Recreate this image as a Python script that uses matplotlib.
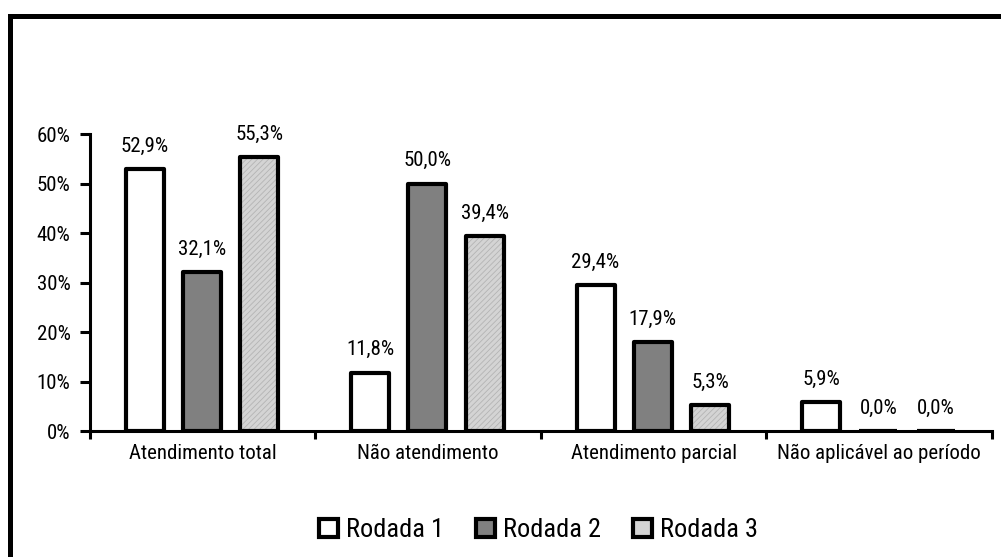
import matplotlib.pyplot as plt
from matplotlib.patches import Rectangle, Patch
import numpy as np

plt.rcParams['font.family'] = ['Liberation Sans Narrow', 'Arial Narrow', 'Roboto Condensed',
                               'Archivo Narrow', 'Liberation Sans', 'DejaVu Sans']
plt.rcParams['hatch.linewidth'] = 0.6

categorias = ['Atendimento total', 'Não atendimento', 'Atendimento parcial', 'Não aplicável ao período']
rodadas = ['Rodada 1', 'Rodada 2', 'Rodada 3']
rodada1 = [52.9, 11.8, 29.4, 5.9]
rodada2 = [32.1, 50.0, 17.9, 0.0]
rodada3 = [55.3, 39.4, 5.3, 0.0]
cores = ['white', '#808080', '#d4d4d4']
hachuras = [None, None, '//////']


def fmt(v):
    return f'{v:.1f}%'.replace('.', ',')


fig = plt.figure(figsize=(10.01, 5.57), dpi=100)
ax = fig.add_axes([0.0899, 0.2262, 0.9011, 0.5332])

x = np.arange(len(categorias))
largura = 0.169
desloc = [-0.258, -0.004, 0.25]

for serie, cor, hach, d in zip([rodada1, rodada2, rodada3], cores, hachuras, desloc):
    # preenchimento (com hachura fina na rodada 3) e depois o contorno preto
    ax.bar(x + d, serie, largura, color=cor, hatch=hach, edgecolor='#b4b4b4',
           linewidth=0, zorder=2)
    ax.bar(x + d, serie, largura, fill=False, edgecolor='black', linewidth=3,
           joinstyle='round', zorder=3)
    for xi, v in zip(x + d, serie):
        ax.text(xi, v + 3.5, fmt(v), ha='center', va='baseline', fontsize=15)

ax.set_xlim(-0.5, 3.5)
ax.set_ylim(0, 60)
ax.set_yticks(np.arange(0, 61, 10))
ax.set_yticklabels([f'{t}%' for t in range(0, 61, 10)], fontsize=15)
ax.set_xticks(x)
ax.set_xticklabels(categorias, fontsize=15)
ax.tick_params(axis='x', length=0, pad=9)
ax.tick_params(axis='y', length=7, width=2.2, pad=7)

# marcas entre categorias no eixo x
ax.set_xticks(np.arange(-0.5, 4.0, 1.0), minor=True)
ax.tick_params(axis='x', which='minor', length=6, width=2.2)

for s in ['top', 'right']:
    ax.spines[s].set_visible(False)
ax.spines['left'].set_linewidth(2.2)
ax.spines['bottom'].set_linewidth(2.2)

alcas = [Patch(facecolor=c, edgecolor='black', linewidth=3) for c in cores]
fig.legend(alcas, rodadas, loc='center', bbox_to_anchor=(0.538, 0.048), ncol=3,
           frameon=False, fontsize=19, handlelength=0.72, handleheight=0.72,
           handletextpad=0.3, columnspacing=1.2)

# moldura externa
fig.patches.append(Rectangle((10 / 1001, -0.05), 1.1, 1 - 15.5 / 557 + 0.05,
                             transform=fig.transFigure, fill=False,
                             edgecolor='black', linewidth=3.6, clip_on=False))

fig.savefig('out.png', dpi=100)
